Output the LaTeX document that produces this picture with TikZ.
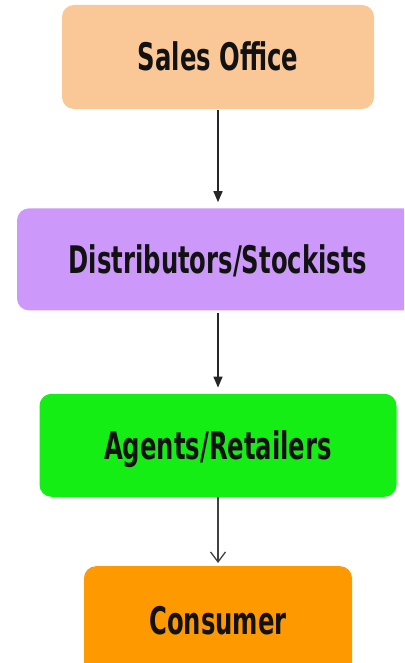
\documentclass[tikz,border=0pt]{standalone}
\usepackage{fontspec}
\newfontfamily\boxfont[FakeStretch=0.64]{DejaVu Sans}
\usetikzlibrary{arrows.meta,positioning}

\definecolor{salescol}{RGB}{250,200,150}
\definecolor{distcol}{RGB}{204,153,250}
\definecolor{agentcol}{RGB}{20,238,20}
\definecolor{conscol}{RGB}{255,153,0}

\begin{document}
\begin{tikzpicture}[
  x=1pt,y=1pt,
  box/.style={rounded corners=12pt, inner sep=0pt, text=black!93,
    font=\boxfont\bfseries\fontsize{38}{40}\selectfont,
    text height=27.7pt, text depth=0pt},
  flow/.style={line width=1.5pt, draw=black!85,
    -{Triangle[length=11pt,width=9pt]}},
  flowopen/.style={line width=1.3pt, draw=black!75,
    -{Straight Barb[length=10pt,width=15pt]}},
]
\useasboundingbox (0,0) rectangle (404,663);
\clip (0,0) rectangle (404,663);

% the four levels of the channel
\node[box, fill=salescol, minimum width=312pt, minimum height=104pt] (sales) at (218,606) {Sales Office};
\node[box, fill=distcol, minimum width=402pt, minimum height=102pt, below=99pt of sales] (dist) {Distributors/Stockists};
\node[box, fill=agentcol, minimum width=357pt, minimum height=103pt, below=83pt of dist] (agent) {Agents/Retailers};
\node[box, fill=conscol, minimum width=268pt, minimum height=109pt, below=69pt of agent] (cons) {Consumer};

\draw[flow, shorten <=1pt, shorten >=6pt] (sales) -- (dist);
\draw[flow, shorten <=2pt, shorten >=6pt] (dist) -- (agent);
\draw[flowopen, shorten >=3pt] (agent) -- (cons);

\end{tikzpicture}
\end{document}
